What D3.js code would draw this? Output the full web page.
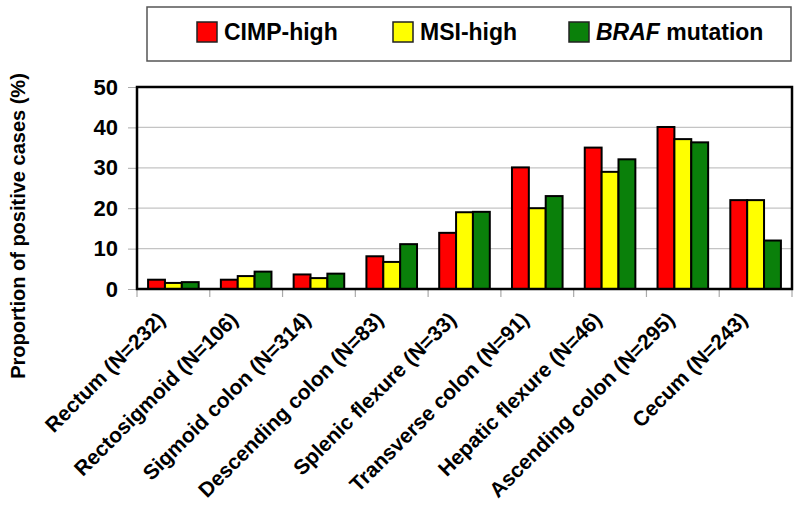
<!DOCTYPE html>
<html><head><meta charset="utf-8">
<script src="https://cdn.jsdelivr.net/npm/d3@7"></script>
<style>body{margin:0;background:#fff}svg{display:block}text{font-family:"Liberation Sans",Arial,sans-serif;font-weight:bold}</style>
</head><body>
<svg id="c" width="800" height="508"></svg>
<script>
const categories = ["Rectum (N=232)","Rectosigmoid (N=106)","Sigmoid colon (N=314)","Descending colon (N=83)","Splenic flexure (N=33)","Transverse colon (N=91)","Hepatic flexure (N=46)","Ascending colon (N=295)","Cecum (N=243)"];
const seriesNames = ["CIMP-high","MSI-high","BRAF mutation"];
const cimpHigh = [2.3, 2.3, 3.6, 8.1, 13.9, 30.1, 35.0, 40.1, 22.0];
const msiHigh  = [1.5, 3.2, 2.7, 6.7, 19.0, 20.0, 29.0, 37.1, 22.0];
const brafMut  = [1.7, 4.3, 3.8, 11.1, 19.1, 23.0, 32.1, 36.3, 12.0];
const yTicks = [0,10,20,30,40,50];
const colors = ["#ff0000","#ffff00","#0a800a"];

const svg = d3.select("#c");
const L=137, R=792, T=87, B=289;
const x = d3.scaleBand().domain(categories).range([L,R]).paddingInner(0).paddingOuter(0);
const inner = d3.scaleBand().domain(d3.range(3)).range([0, 50.6]);
const groupOff = (x.bandwidth()-50.6)/2;
const y = d3.scaleLinear().domain([0,50]).range([B,T]);
const series = [cimpHigh, msiHigh, brafMut];

// gridlines
svg.append("g").selectAll("line").data(yTicks.filter(d=>d>0&&d<50)).join("line")
  .attr("x1",L).attr("x2",R).attr("y1",d=>y(d)).attr("y2",d=>y(d))
  .attr("stroke","#c4c4c4").attr("stroke-width",1.2);

// y axis
const ya = svg.append("g").attr("transform",`translate(${L},0)`)
  .call(d3.axisLeft(y).tickValues(yTicks).tickSize(9).tickPadding(10));
ya.select(".domain").remove();
ya.selectAll(".tick line").attr("stroke","#aaa");
ya.selectAll(".tick text").attr("font-size",22).attr("fill","#000")
  .style("font-family","'Liberation Sans',Arial,sans-serif").style("font-weight","bold");

// x axis
const xa = svg.append("g").attr("transform",`translate(0,${B})`)
  .call(d3.axisBottom(x).tickSize(0).tickFormat(""));
xa.select(".domain").remove();
svg.append("g").selectAll("line").data(d3.range(categories.length+1)).join("line")
  .attr("x1",i=>L+i*x.step()).attr("x2",i=>L+i*x.step()).attr("y1",B).attr("y2",B+8)
  .attr("stroke","#aaa").attr("stroke-width",1.2);

svg.append("g").selectAll("text").data(categories).join("text")
  .attr("transform",d=>`translate(${x(d)+x.bandwidth()/2-7},${B+32}) rotate(-45)`)
  .attr("text-anchor","end").attr("font-size",21).text(d=>d);

// bars
series.forEach((vals,si)=>{
  svg.append("g").selectAll("rect").data(vals).join("rect")
    .attr("x",(v,i)=>x(categories[i])+groupOff+inner(si))
    .attr("width",inner.bandwidth())
    .attr("y",v=>y(v)).attr("height",v=>B-y(v))
    .attr("fill",colors[si]).attr("stroke","#000").attr("stroke-width",2);
});

// frame
svg.append("rect").attr("x",L).attr("y",T).attr("width",R-L).attr("height",B-T)
  .attr("fill","none").attr("stroke","#000").attr("stroke-width",2.5);

// y title
svg.append("text").attr("transform",`translate(25,${(T+B)/2+38}) rotate(-90)`)
  .attr("text-anchor","middle").attr("font-size",20).text("Proportion of positive cases (%)");

// legend
svg.append("rect").attr("x",147).attr("y",7).attr("width",644).attr("height",54)
  .attr("fill","#fff").attr("stroke","#555").attr("stroke-width",1.5);
const legX = [197, 393, 569];
const lg = svg.append("g").selectAll("g").data(seriesNames).join("g")
  .attr("transform",(d,i)=>`translate(${legX[i]},22)`);
lg.append("rect").attr("width",20).attr("height",20).attr("fill",(d,i)=>colors[i])
  .attr("stroke","#222").attr("stroke-width",1.5);
lg.append("text").attr("x",27).attr("y",18).attr("font-size",23).each(function(d){
  const t=d3.select(this);
  if(d.startsWith("BRAF")){
    t.append("tspan").attr("font-style","italic").text("BRAF");
    t.append("tspan").text(" mutation");
  } else t.text(d);
});
</script>
</body></html>
